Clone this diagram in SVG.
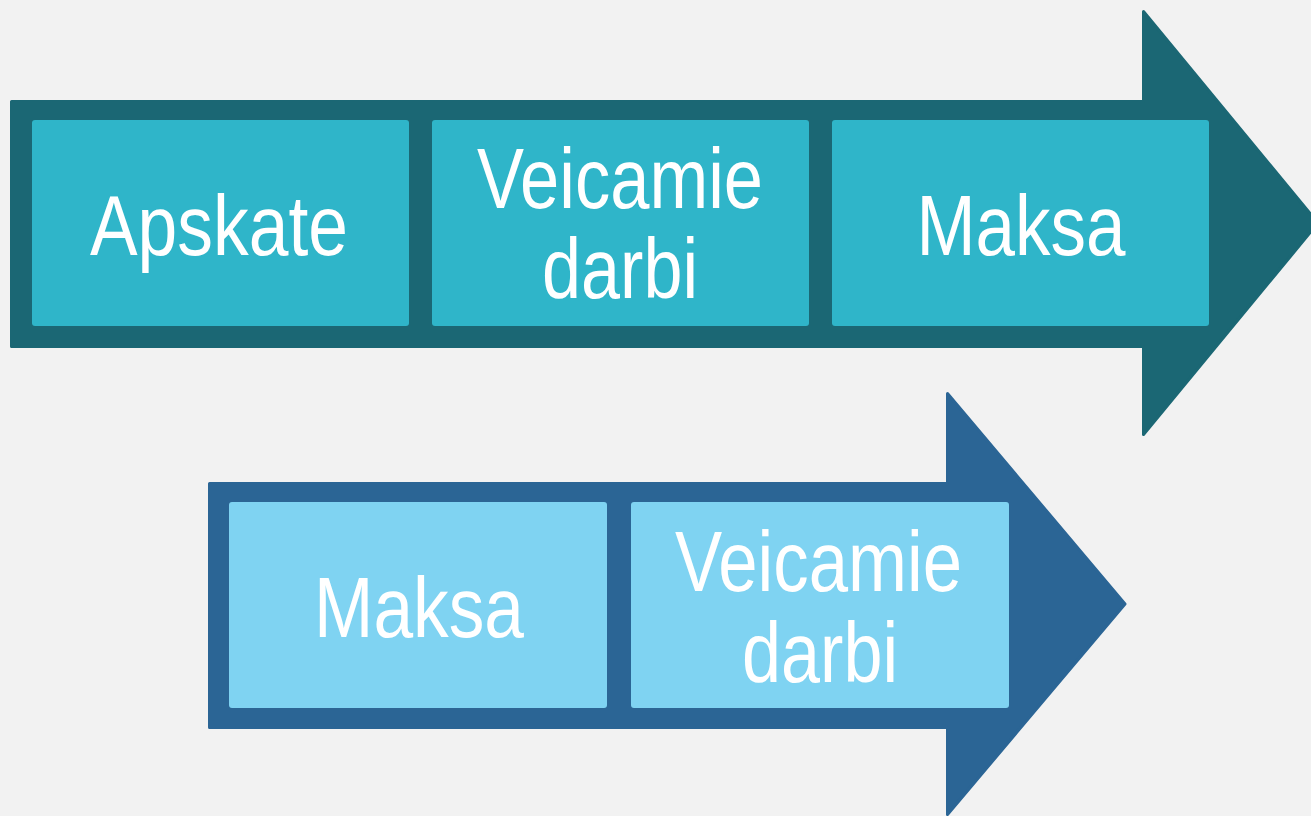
<svg xmlns="http://www.w3.org/2000/svg" width="1311" height="816" viewBox="0 0 1311 816">
  <style>
    .arrowTop { fill: #1B6774; stroke: #1B6774; stroke-width: 3; stroke-linejoin: round; }
    .arrowBot { fill: #2B6595; stroke: #2B6595; stroke-width: 3; stroke-linejoin: round; }
    .boxTop { fill: #2FB5C9; }
    .boxBot { fill: #7FD3F2; }
    .lbl { fill: #FFFFFF; font-family: "Liberation Sans Narrow", "Liberation Sans", Arial, sans-serif; font-size: 86px; text-anchor: middle; }
  </style>
  <rect width="1311" height="816" fill="#F2F2F2"/>
  <g id="connectors">
    <path id="arrow-top" class="arrowTop" d="M 11.5 101.5 L 1143.5 101.5 L 1143.5 11.5 L 1318 223 L 1143.5 434.5 L 1143.5 346.5 L 11.5 346.5 Z"/>
    <path id="arrow-bottom" class="arrowBot" d="M 209.5 483.5 L 947.5 483.5 L 947.5 393.5 L 1125 604 L 947.5 814.5 L 947.5 727.5 L 209.5 727.5 Z"/>
  </g>
  <g id="node-apskate">
    <rect class="boxTop" x="32" y="120" width="377" height="206" rx="3"/>
    <text class="lbl" x="219" y="255" textLength="258" lengthAdjust="spacingAndGlyphs">Apskate</text>
  </g>
  <g id="node-veicamie-top">
    <rect class="boxTop" x="432" y="120" width="377" height="206" rx="3"/>
    <text class="lbl" x="620" y="208" textLength="286" lengthAdjust="spacingAndGlyphs">Veicamie</text>
    <text class="lbl" x="620" y="298" textLength="156" lengthAdjust="spacingAndGlyphs">darbi</text>
  </g>
  <g id="node-maksa-top">
    <rect class="boxTop" x="832" y="120" width="377" height="206" rx="3"/>
    <text class="lbl" x="1021" y="255" textLength="209" lengthAdjust="spacingAndGlyphs">Maksa</text>
  </g>
  <g id="node-maksa-bottom">
    <rect class="boxBot" x="229" y="502" width="378" height="206" rx="3"/>
    <text class="lbl" x="419" y="637" textLength="210" lengthAdjust="spacingAndGlyphs">Maksa</text>
  </g>
  <g id="node-veicamie-bottom">
    <rect class="boxBot" x="631" y="502" width="378" height="206" rx="3"/>
    <text class="lbl" x="818.5" y="591" textLength="287" lengthAdjust="spacingAndGlyphs">Veicamie</text>
    <text class="lbl" x="820" y="682" textLength="156" lengthAdjust="spacingAndGlyphs">darbi</text>
  </g>
</svg>
